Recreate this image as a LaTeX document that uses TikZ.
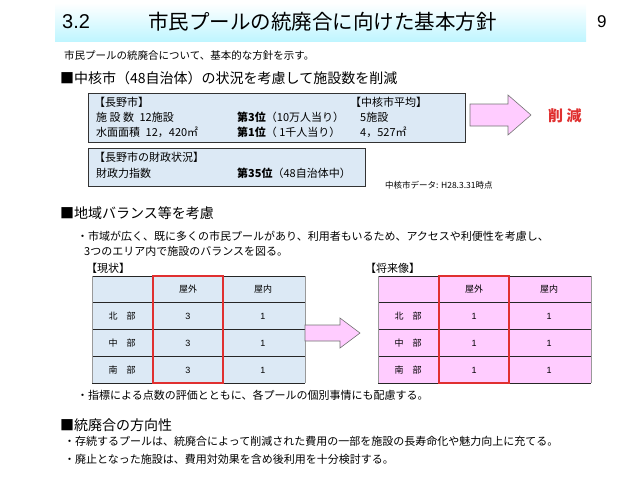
\documentclass[tikz,border=0pt]{standalone}
\usepackage{fontspec}
\setmainfont{Noto Sans CJK JP}
\newfontfamily\lat{Liberation Sans}
\definecolor{boxblue}{HTML}{DCE9F5}
\definecolor{pinkf}{HTML}{FFCCFF}
\definecolor{redl}{HTML}{E03030}
\begin{document}
\begin{tikzpicture}[x=1pt,y=-1pt,
 txt/.style={anchor=west,inner sep=0,font=\fontsize{11}{13}\selectfont},
 head/.style={anchor=west,inner sep=0,font=\fontsize{14}{16}\selectfont},
 infobox/.style={draw=black!80,fill=boxblue,line width=0.8pt},
 cell/.style={anchor=center,inner sep=0,font=\fontsize{9}{10}\selectfont},
 parrow/.style={draw=black!55,fill=pinkf,line width=0.6pt},
 ]
\useasboundingbox (0,0) rectangle (638,479);
\shade[top color=white,bottom color=blue!15!cyan!25] (55,3) rectangle (586,41);
\node[anchor=west,inner sep=0,font=\fontsize{20}{22}\selectfont] (t32) at (62,22) {\lat 3.2};
\node[anchor=west,inner sep=0,font=\fontsize{20.5}{22}\selectfont] (title) at (148,22) {市民プールの統廃合に向けた基本方針};
\node[anchor=west,inner sep=0,font=\fontsize{17}{19}\selectfont] (pg) at (597,22) {\lat 9};
\node[txt,font=\fontsize{10.5}{12}\selectfont] (intro) at (64,56) {市民プールの統廃合について、基本的な方針を示す。};
\node[head] (h1) at (60,78) {■中核市（48自治体）の状況を考慮して施設数を削減};
\draw[infobox] (88,93) rectangle (465,142);
\node[txt] (a1) at (94,102) {【長野市】};
\node[txt] (a2) at (96,117) {施 設 数\enspace 12施設};
\node[txt] (a3) at (96,132) {水面面積\enspace 12，420㎡};
\node[txt] (b2) at (237,117) {\textbf{第3位}（10万人当り）};
\node[txt] (b3) at (237,132) {\textbf{第1位}（ 1千人当り）};
\node[txt] (c1) at (350,102) {【中核市平均】};
\node[txt] (c2) at (360,117) {5施設};
\node[txt] (c3) at (360,132) {4，527㎡};
\draw[infobox] (88,148) rectangle (365,186);
\node[txt] (d1) at (94,157) {【長野市の財政状況】};
\node[txt] (d2) at (96,173) {財政力指数};
\node[txt] (d3) at (237,173) {\textbf{第35位}（48自治体中）};
\node[txt,font=\fontsize{8.5}{9}\selectfont] (note) at (385,185) {中核市データ: H28.3.31時点};
\draw[parrow] (470,104)--(508,104)--(508,95)--(531,115)--(508,135)--(508,126)--(470,126)--cycle;
\node[anchor=west,inner sep=0,text=redl,font=\fontsize{15}{17}\selectfont\bfseries] (sak) at (548,116) {削 減};
\node[head] (h2) at (60,213) {■地域バランス等を考慮};
\node[txt] (l1) at (77,236) {・市域が広く、既に多くの市民プールがあり、利用者もいるため、アクセスや利便性を考慮し、};
\node[txt] (l2) at (84,251) {3つのエリア内で施設のバランスを図る。};
\node[txt] (gj) at (86,268) {【現状】};
\node[txt] (sr) at (365,268) {【将来像】};
\foreach \C/\fc/\v in {92/boxblue/3,378/pinkf/1}{
 \begin{scope}[xshift=\C pt-92pt]
 \fill[\fc] (92,276) rectangle (305,383);
 \foreach \yy in {276,302,329,356,383} \draw[black!85,line width=0.6pt] (92,\yy) -- (305,\yy);
 \draw[black!40,line width=0.4pt] (92,276)--(92,383) (305,276)--(305,383);
 \draw[black!40,line width=0.4pt] (222,276)--(222,383);
 \draw[redl,line width=1.4pt] (153,276) rectangle (223,383);
 \node[cell] at (188,289) {屋外};
 \node[cell] at (263,289) {屋内};
 \node[cell] at (122,316) {北\quad 部};
 \node[cell] at (122,343) {中\quad 部};
 \node[cell] at (122,370) {南\quad 部};
 \foreach \yy in {316,343,370}{\node[cell] at (188,\yy) {\lat \v}; \node[cell] at (263,\yy) {\lat 1};}
 \end{scope}}
\draw[parrow] (305,325)--(340,325)--(340,318)--(360,333)--(340,348)--(340,341)--(305,341)--cycle;
\node[txt] (l3) at (77,395) {・指標による点数の評価とともに、各プールの個別事情にも配慮する。};
\node[head] (h3) at (60,425) {■統廃合の方向性};
\node[txt] (l4) at (64,441) {・存続するプールは、統廃合によって削減された費用の一部を施設の長寿命化や魅力向上に充てる。};
\node[txt] (l5) at (64,459) {・廃止となった施設は、費用対効果を含め後利用を十分検討する。};
\end{tikzpicture}
\end{document}
